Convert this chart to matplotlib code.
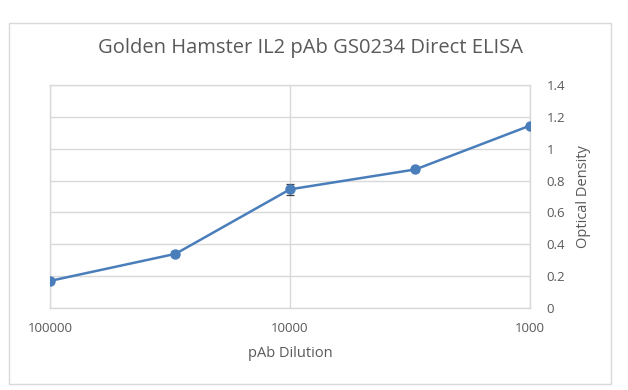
import matplotlib
matplotlib.use("Agg")
from matplotlib import pyplot as plt
from matplotlib.patches import Rectangle

# data
dilution = [100000, 30000, 10000, 3000, 1000]
od = [0.17, 0.34, 0.745, 0.87, 1.145]
od_err = [0.008, 0.016, 0.035, 0.01, 0.008]
x_ticks = [100000, 10000, 1000]
x_tick_labels = ["100000", "10000", "1000"]
y_ticks = [0, 0.2, 0.4, 0.6, 0.8, 1, 1.2, 1.4]
y_tick_labels = ["0", "0.2", "0.4", "0.6", "0.8", "1", "1.2", "1.4"]

plt.rcParams['font.family'] = ['Open Sans', 'DejaVu Sans']
text_color = '#595959'
grid_color = '#d9d9d9'
line_color = '#4a7ebb'

fig = plt.figure(figsize=(6.28, 3.90), dpi=100)

# outer chart border
fig.patches.append(Rectangle((9 / 628, 1 - 384 / 390), 602 / 628, 361 / 390,
                             transform=fig.transFigure, fill=False,
                             edgecolor=grid_color, linewidth=1))

ax = fig.add_axes([50 / 628, 1 - 308 / 390, 480 / 628, 223 / 390])
# error bars sit behind the markers, only the caps show
ax.errorbar(dilution, od, yerr=od_err, fmt='none', ecolor='#404040',
            elinewidth=0.9, capsize=3, capthick=0.9, zorder=2)
ax.plot(dilution, od, color=line_color, linewidth=1.8,
        marker='o', markersize=6.5, zorder=3)

ax.set_xscale('log')
ax.set_xlim(100000, 1000)
ax.set_ylim(0, 1.4)
ax.set_xticks(x_ticks)
ax.set_xticklabels(x_tick_labels)
ax.xaxis.set_minor_locator(matplotlib.ticker.NullLocator())
ax.set_yticks(y_ticks)
ax.set_yticklabels(y_tick_labels)

ax.yaxis.tick_right()
ax.yaxis.set_label_position('right')
ax.tick_params(length=0, colors=text_color, labelsize=9.5)
ax.tick_params(axis='y', pad=12)
ax.tick_params(axis='x', pad=10)

ax.grid(True, color=grid_color, linewidth=1)
ax.set_axisbelow(True)
for s in ax.spines.values():
    s.set_color(grid_color)
    s.set_linewidth(1)

ax.set_xlabel("pAb Dilution", color=text_color, fontsize=10.5, labelpad=8)
ax.set_ylabel("Optical Density", color=text_color, fontsize=10.5, labelpad=8)
fig.text(310 / 628, 1 - 48 / 390, "Golden Hamster IL2 pAb GS0234 Direct ELISA",
         color=text_color, fontsize=14.5, ha='center', va='center')

fig.savefig("out.png", dpi=100)
